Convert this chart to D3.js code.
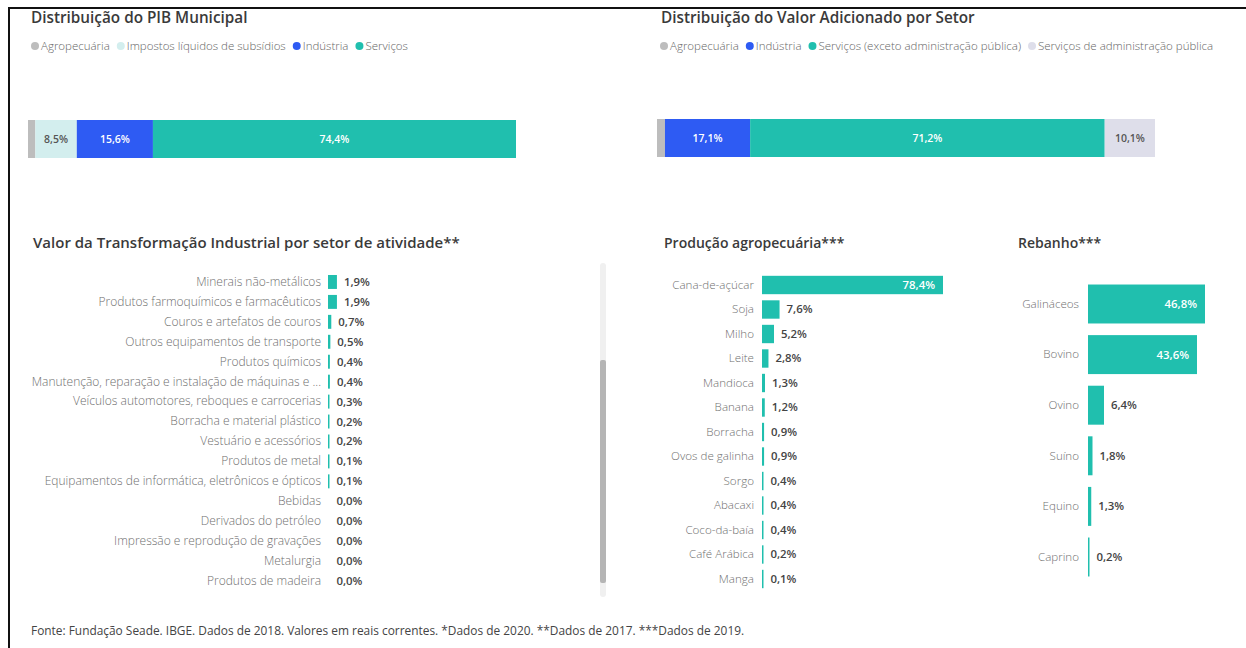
<!DOCTYPE html>
<html>
<head>
<meta charset="utf-8">
<script src="https://cdn.jsdelivr.net/npm/d3@7"></script>
<style>
  body { margin: 0; background: #fff; }
  svg { display: block; font-family: "Open Sans", "Noto Sans", sans-serif; }
</style>
</head>
<body>
<div id="chart"></div>
<script>
// PIB municipal
var pibCats = ["Agropecuária", "Impostos líquidos de subsídios", "Indústria", "Serviços"];
var pibVals = [1.5, 8.5, 15.6, 74.4];
var pibColors = ["#bdbdbd", "#d3eeee", "#2e5bf3", "#20bfae"];

// Valor adicionado
var vaCats = ["Agropecuária", "Indústria", "Serviços (exceto administração pública)", "Serviços de administração pública"];
var vaVals = [1.6, 17.1, 71.2, 10.1];
var vaColors = ["#bdbdbd", "#2e5bf3", "#20bfae", "#dedeea"];

// Transformação industrial
var indCats = ["Minerais não-metálicos", "Produtos farmoquímicos e farmacêuticos", "Couros e artefatos de couros",
  "Outros equipamentos de transporte", "Produtos químicos", "Manutenção, reparação e instalação de máquinas e ...",
  "Veículos automotores, reboques e carrocerias", "Borracha e material plástico", "Vestuário e acessórios",
  "Produtos de metal", "Equipamentos de informática, eletrônicos e ópticos", "Bebidas", "Derivados do petróleo",
  "Impressão e reprodução de gravações", "Metalurgia", "Produtos de madeira"];
var indVals = [1.9, 1.9, 0.7, 0.5, 0.4, 0.4, 0.3, 0.2, 0.2, 0.1, 0.1, 0.0, 0.0, 0.0, 0.0, 0.0];

// Produção agropecuária
var agroCats = ["Cana-de-açúcar", "Soja", "Milho", "Leite", "Mandioca", "Banana", "Borracha", "Ovos de galinha",
  "Sorgo", "Abacaxi", "Coco-da-baía", "Café Arábica", "Manga"];
var agroVals = [78.4, 7.6, 5.2, 2.8, 1.3, 1.2, 0.9, 0.9, 0.4, 0.4, 0.4, 0.2, 0.1];

// Rebanho
var rebCats = ["Galináceos", "Bovino", "Ovino", "Suíno", "Equino", "Caprino"];
var rebVals = [46.8, 43.6, 6.4, 1.8, 1.3, 0.2];

var fonte = "Fonte: Fundação Seade. IBGE. Dados de 2018. Valores em reais correntes. *Dados de 2020. **Dados de 2017. ***Dados de 2019.";

var W = 1246, H = 648;
var teal = "#20bfae";
var fmt = function(v) { return d3.format(".1f")(v).replace(".", ",") + "%"; };

var svg = d3.select("#chart").append("svg")
    .attr("width", W)
    .attr("height", H);

// frame
svg.append("path")
    .attr("d", "M9," + H + "V8H" + W)
    .attr("fill", "none")
    .attr("stroke", "#111")
    .attr("stroke-width", 2);

function title(x, y, txt, size) {
    svg.append("text")
        .attr("x", x).attr("y", y)
        .attr("font-size", size)
        .attr("font-weight", 600)
        .attr("fill", "#3a3a3a")
        .text(txt);
}

function legend(x, y, cats, colors) {
    var g = svg.append("g").attr("transform", "translate(" + x + "," + y + ")");
    var cx = 0;
    cats.forEach(function(c, i) {
        g.append("circle").attr("cx", cx + 4).attr("cy", 0).attr("r", 4).attr("fill", colors[i]);
        var t = g.append("text")
            .attr("x", cx + 10).attr("y", 0).attr("dy", "0.35em")
            .attr("font-size", 11.5)
            .attr("font-weight", 300)
            .attr("fill", "#666")
            .text(c);
        cx += 10 + t.node().getComputedTextLength() + 7;
    });
}

function stacked(x0, x1, y0, y1, vals, colors, darkLabels) {
    var x = d3.scaleLinear().domain([0, 100]).range([x0, x1]);
    var acc = 0;
    var segs = vals.map(function(v, i) {
        var s = {start: acc, end: acc + v, v: v, i: i};
        acc += v;
        return s;
    });
    var g = svg.append("g");
    g.selectAll("rect").data(segs).enter().append("rect")
        .attr("x", function(d) { return x(d.start); })
        .attr("y", y0)
        .attr("width", function(d) { return x(d.end) - x(d.start); })
        .attr("height", y1 - y0)
        .attr("fill", function(d) { return colors[d.i]; });
    g.selectAll("text").data(segs.filter(function(d) { return x(d.end) - x(d.start) > 30; }))
        .enter().append("text")
        .attr("x", function(d) { return (x(d.start) + x(d.end)) / 2; })
        .attr("y", (y0 + y1) / 2)
        .attr("dy", "0.35em")
        .attr("text-anchor", "middle")
        .attr("font-size", 10.5)
        .attr("font-weight", 600)
        .attr("fill", function(d) { return darkLabels.indexOf(d.i) >= 0 ? "#555" : "#fff"; })
        .text(function(d) { return fmt(d.v); });
}

function hbars(cats, vals, xr, yr, pad, labelEnd, fontSize) {
    var x = d3.scaleLinear().domain(xr[0]).range(xr[1]);
    var y = d3.scaleBand().domain(cats).range(yr).paddingInner(pad).paddingOuter(pad / 2);
    var data = cats.map(function(c, i) { return {c: c, v: vals[i]}; });
    var g = svg.append("g");

    var yAxis = d3.axisLeft(y).tickSize(0).tickPadding(0);
    var ax = g.append("g").attr("transform", "translate(" + labelEnd + ",0)").call(yAxis);
    ax.attr("font-family", null).attr("font-size", null);
    ax.select(".domain").remove();
    ax.selectAll("text")
        .attr("font-size", fontSize)
        .attr("font-weight", 300)
        .attr("fill", "#6f6f6f");

    g.selectAll("rect").data(data).enter().append("rect")
        .attr("x", x(0))
        .attr("y", function(d) { return y(d.c); })
        .attr("width", function(d) { return Math.max(x(d.v) - x(0), d.v > 0 ? 1.5 : 0); })
        .attr("height", y.bandwidth())
        .attr("fill", teal);

    g.selectAll("text.val").data(data).enter().append("text")
        .attr("class", "val")
        .attr("y", function(d) { return y(d.c) + y.bandwidth() / 2; })
        .attr("dy", "0.35em")
        .attr("font-size", 11.4)
        .attr("font-weight", 600)
        .each(function(d) {
            var inside = x(d.v) - x(0) > 50;
            d3.select(this)
                .attr("x", inside ? x(d.v) - 8 : Math.max(x(d.v), x(0) + 1.5) + 7)
                .attr("text-anchor", inside ? "end" : "start")
                .attr("fill", inside ? "#fff" : "#444");
        })
        .text(function(d) { return fmt(d.v); });
}

// top: PIB
title(31, 22.5, "Distribuição do PIB Municipal", 15.3);
legend(31, 46, pibCats, pibColors);
stacked(28, 516, 120, 158, pibVals, pibColors, [1]);

// top: valor adicionado
title(661, 22.5, "Distribuição do Valor Adicionado por Setor", 15.3);
legend(660, 46, vaCats, vaColors);
stacked(657, 1155, 119, 157, vaVals, vaColors, [3]);

// industrial
title(33, 248, "Valor da Transformação Industrial por setor de atividade**", 15);
hbars(indCats, indVals, [[0, 100], [328, 798]], [272, 591], 0.3, 321, 12);

// scroll bar
svg.append("rect").attr("x", 600).attr("y", 263).attr("width", 6).attr("height", 334)
    .attr("rx", 3).attr("fill", "#f0f0f0");
svg.append("rect").attr("x", 600).attr("y", 360).attr("width", 6).attr("height", 223)
    .attr("rx", 2).attr("fill", "#b5b5b5");

// agro
title(664, 248, "Produção agropecuária***", 14);
hbars(agroCats, agroVals, [[0, 78.4], [762, 943]], [272.75, 591.25], 0.25, 754, 11.6);

// rebanho
title(1018, 248, "Rebanho***", 14);
hbars(rebCats, rebVals, [[0, 46.8], [1088, 1205]], [278.7, 582.3], 0.23, 1079, 11.6);

// fonte
svg.append("text")
    .attr("x", 31).attr("y", 635)
    .attr("font-size", 11.9)
    .attr("fill", "#444")
    .text(fonte);
</script>
</body>
</html>
